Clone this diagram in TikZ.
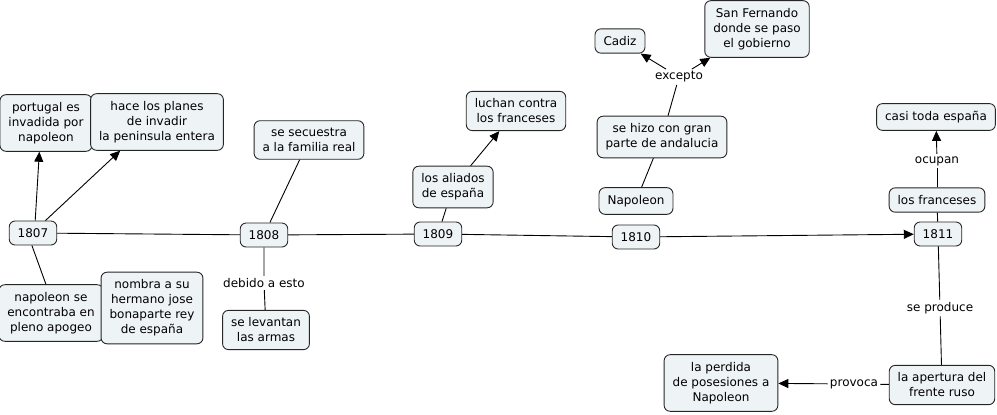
\documentclass[tikz,border=0pt]{standalone}
\usepackage{fontspec}
\setmainfont{DejaVu Sans}
\usetikzlibrary{arrows.meta,positioning}

\begin{document}
\begin{tikzpicture}[x=1pt,y=-1pt,line width=0.9pt,
        concept/.style={draw=black!85,rounded corners=6pt,fill=boxfill,align=center,inner xsep=8.5pt,inner ysep=7.5pt,font=\fontsize{12}{15}\selectfont},
        link/.style={fill=white,inner sep=2pt,font=\fontsize{12}{15}\selectfont},
        toarrow/.style={-{Triangle[length=10pt,width=9pt]}}]
        \definecolor{boxfill}{RGB}{238,243,245}
        \useasboundingbox (0,0) rectangle (997,415);
        % years
        \node[concept] (y1807) at (33,233) {1807};
        \node[concept] (y1808) at (264,235) {1808};
        \node[concept] (y1809) at (438,234) {1809};
        \node[concept] (y1810) at (636,237) {1810};
        \node[concept] (y1811) at (938,234) {1811};
        \draw (y1807) -- (y1808);
        \draw (y1808) -- (y1809);
        \draw (y1809) -- (y1810);
        \draw[toarrow] (y1810) -- (y1811);
        % 1807
        \node[concept] (portugal) at (46,123) {portugal es\\invadida por\\napoleon};
        \node[concept] (planes) at (157,122) {hace los planes\\de invadir\\la peninsula entera};
        \node[concept] (apogeo) at (51,313) {napoleon se\\encontraba en\\pleno apogeo};
        \node[concept] (hermano) at (152,308) {nombra a su\\hermano jose\\bonaparte rey\\de españa};
        \draw[toarrow] (y1807.80) -- (portugal.257);
        \draw[toarrow] (y1807.45) -- (planes.218);
        \draw (y1807.265) -- (apogeo.100);
        % 1808
        \node[concept] (secuestro) at (309,140) {se secuestra\\a la familia real};
        \node[link] (debido) at (264,283) {debido a esto};
        \node[concept] (armas) at (266,330) {se levantan\\las armas};
        \draw (y1808) -- (secuestro);
        \draw (y1808) -- (debido) -- (armas);
        % 1809
        \node[concept] (aliados) at (453,187) {los aliados\\de españa};
        \node[concept] (luchan) at (516,111) {luchan contra\\los franceses};
        \draw (y1809) -- (aliados);
        \draw[toarrow] (aliados) -- (luchan);
        % 1810
        \node[concept] (napoleon) at (636,201) {Napoleon};
        \node[concept] (andalucia) at (662,137) {se hizo con gran\\parte de andalucia};
        \node[link] (excepto) at (679,77) {excepto};
        \node[concept] (cadiz) at (620,41) {Cadiz};
        \node[concept] (fernando) at (757,29) {San Fernando\\donde se paso\\el gobierno};
        \draw (napoleon) -- (andalucia);
        \draw (andalucia) -- (excepto);
        \draw[toarrow] (excepto) -- (cadiz);
        \draw[toarrow] (excepto) -- (fernando);
        % 1811
        \node[concept] (franceses) at (937,200) {los franceses};
        \node[link] (ocupan) at (937,161) {ocupan};
        \node[concept] (casi) at (936,117) {casi toda españa};
        \node[link] (produce) at (940,308) {se produce};
        \node[concept] (ruso) at (942,385) {la apertura del\\frente ruso};
        \node[link] (provoca) at (854,384) {provoca};
        \node[concept] (perdida) at (721,383) {la perdida\\de posesiones a\\Napoleon};
        \draw (y1811) -- (franceses);
        \draw (franceses) -- (ocupan);
        \draw[toarrow] (ocupan) -- (casi);
        \draw (y1811) -- (produce) -- (ruso);
        \draw (ruso) -- (provoca);
        \draw[toarrow] (provoca) -- (perdida);
\end{tikzpicture}
\end{document}
